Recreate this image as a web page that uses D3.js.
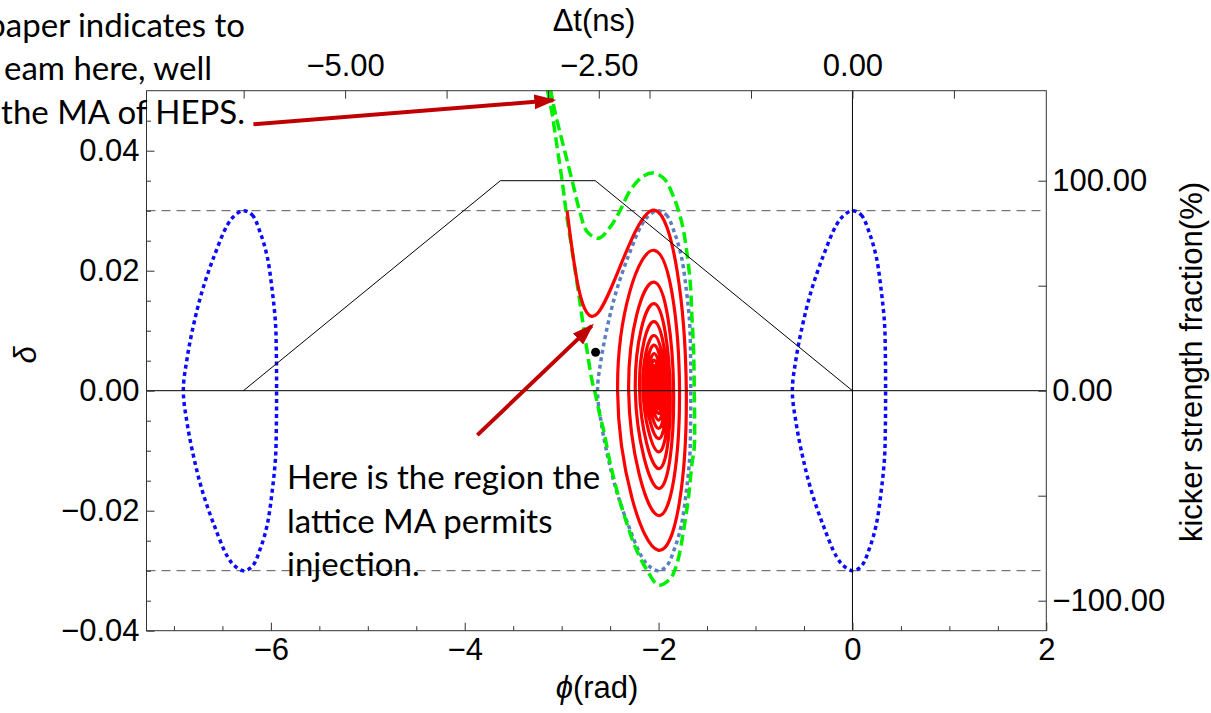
<!DOCTYPE html>
<html>
<head>
<meta charset="utf-8">
<script src="https://cdn.jsdelivr.net/npm/d3@7"></script>
<style>
  body { margin: 0; background: #fff; }
  svg { display: block; }
  .axis text { font-family: "Liberation Sans", Arial, sans-serif; font-size: 31px; fill: #000; }
  .axis line { stroke: #333; }
  .title { font-family: "Liberation Sans", Arial, sans-serif; font-size: 31px; fill: #000; }
  .note { font-family: Lato, "Open Sans", sans-serif; font-size: 33px; fill: #000; }
</style>
</head>
<body>
<div id="chart"></div>
<script>
/**** size of the svg and the plot frame ****/
var width = 1211,
    height = 713;
var margin = {top: 90.7, right: 164.7, bottom: 82.3, left: 146.5};

/**** axes ****/
var phiDomain = [-2 * Math.PI - 1, 2];   // rad
var deltaDomain = [-0.04, 0.05];
var rfRadPerNs = 1.0468;                 // 2*pi*166.6 MHz, rad per ns
var kickerFull = 0.035;                  // delta that matches 100% kicker

var bottomMajor = [-6, -4, -2, 0, 2];
var leftMajor = [-0.04, -0.02, 0, 0.02, 0.04];
var topTicks = [-6, -5, -4, -3, -2.5, -2, -1, 0, 1];
var topLabels = [-5, -2.5, 0];
var rightTicks = [-100, -50, 0, 50, 100];
var rightLabels = [-100, 0, 100];
var maLimits = [-0.03, 0.03];

/**** separatrix of one bucket, offsets from its centre ****/
var bucketDphi = [0.0, 0.09, 0.177, 0.246, 0.297, 0.331, 0.340, 0.342, 0.340, 0.331, 0.297, 0.246, 0.177, 0.09,
                  0.0, -0.09, -0.166, -0.305, -0.424, -0.511, -0.579, -0.620, -0.579, -0.511, -0.424, -0.305, -0.166, -0.09];
var bucketDelta = [0.0300, 0.0293, 0.0262, 0.0223, 0.0167, 0.0112, 0.0056, 0, -0.0056, -0.0112, -0.0167, -0.0223, -0.0262, -0.0293,
                   -0.0300, -0.0292, -0.0276, -0.0223, -0.0167, -0.0112, -0.0056, 0, 0.0056, 0.0112, 0.0167, 0.0223, 0.0276, 0.0292];
var bucketCentres = [-2 * Math.PI, 0];   // blue dotted
var latticeCentre = -2.01;               // steel blue dotted

/**** kicker waveform ****/
var kickerPhi = [-2 * Math.PI, -3.632, -2.653, 0];
var kickerPct = [0, 100, 100, 0];

/**** green dashed boundary ****/
var greenPhi = [-3.117, -3.065, -2.979, -2.893, -2.807, -2.738, -2.619, -2.498, -2.395, -2.292, -2.171, -2.068,
                -1.948, -1.845, -1.759, -1.707, -1.673, -1.656, -1.639, -1.632, -1.632, -1.656, -1.691, -1.742,
                -1.810, -1.879, -2.000, -2.120, -2.240, -2.326, -2.412, -2.498, -2.567, -2.601, -2.653, -2.687,
                -2.738, -2.790, -2.841, -2.893, -2.952, -2.996, -3.047, -3.099, -3.151];
var greenDelta = [0.0504, 0.0462, 0.0406, 0.0351, 0.0295, 0.0265, 0.0254, 0.0273, 0.0301, 0.0334, 0.0356, 0.0363,
                  0.0354, 0.0323, 0.0279, 0.0229, 0.0179, 0.0123, 0.0067, 0.0000, -0.0094, -0.0122, -0.0177, -0.0233,
                  -0.0288, -0.0313, -0.0324, -0.0299, -0.0261, -0.0222, -0.0177, -0.0122, -0.0066, -0.0044, -0.0005, 0.0017,
                  0.0067, 0.0123, 0.0179, 0.0234, 0.0296, 0.0351, 0.0406, 0.0462, 0.0504];

/**** red injected trajectory: lead-in, then one top/right/bottom/left per turn ****/
var leadPhi = [-2.944, -2.635];
var leadDelta = [0.0300, 0.0128];
var loopTopPhi = -2.045,
    loopBottomPhi = -2.0;
var loopTop = [0.0301, 0.0234, 0.0181, 0.0145, 0.0115, 0.0092, 0.0076, 0.0062, 0.0051, 0.0042, 0.0035, 0.0029, 0.0024, 0.0019, 0.0015, 0.0011];
var loopRight = [-1.714, -1.784, -1.845, -1.880, -1.903, -1.924, -1.941, -1.957, -1.972, -1.985, -1.995, -2.003, -2.009, -2.013, -2.016, -2.018];
var loopBottom = [-0.0266, -0.0208, -0.0163, -0.0130, -0.0102, -0.0080, -0.0063, -0.0049, -0.0038, -0.0030, -0.0024, -0.0019, -0.0015, -0.0011, -0.0008, -0.0005];
var loopLeft = [-2.423, -2.309, -2.240, -2.196, -2.161, -2.134, -2.109, -2.086, -2.065, -2.049, -2.040, -2.033, -2.028, -2.025, -2.023, -2.022];

var injPoint = [-2.65, 0.0064];

/**** annotation arrows (phi, delta) ****/
var arrowFrom = [[-6.18, 0.0444], [-3.87, -0.0074]];
var arrowTo = [[-3.086, 0.0484], [-2.690, 0.0108]];

/**** set up svg ****/
var svg = d3.select("#chart")
    .append("svg")
    .attr("width", width)
    .attr("height", height);

var x0 = margin.left,
    x1 = width - margin.right,
    y0 = margin.top,
    y1 = height - margin.bottom;

var x = d3.scaleLinear().domain(phiDomain).range([x0, x1]);
var y = d3.scaleLinear().domain(deltaDomain).range([y1, y0]);
var xt = d3.scaleLinear().domain(phiDomain.map(function(p) { return p / rfRadPerNs; })).range([x0, x1]);
var yk = d3.scaleLinear().domain(deltaDomain.map(function(d) { return d / kickerFull * 100; })).range([y1, y0]);

svg.append("defs").append("clipPath").attr("id", "plotClip")
  .append("rect").attr("x", x0).attr("y", y0).attr("width", x1 - x0).attr("height", y1 - y0);

svg.select("defs").append("marker")
    .attr("id", "head")
    .attr("markerUnits", "userSpaceOnUse")
    .attr("viewBox", "0 -8 22 16")
    .attr("markerWidth", 22).attr("markerHeight", 16)
    .attr("refX", 19).attr("refY", 0)
    .attr("orient", "auto")
  .append("path")
    .attr("d", "M0,-7.5L22,0L0,7.5Z")
    .attr("fill", "#c00000");

var plot = svg.append("g").attr("clip-path", "url(#plotClip)");

var line = d3.line()
    .x(function(d) { return x(d[0]); })
    .y(function(d) { return y(d[1]); });

// dashed momentum acceptance lines
plot.selectAll(".ma")
    .data(maLimits)
  .enter().append("line")
    .attr("x1", x0).attr("x2", x1)
    .attr("y1", function(d) { return y(d); })
    .attr("y2", function(d) { return y(d); })
    .attr("stroke", "#555")
    .attr("stroke-width", 1)
    .attr("stroke-dasharray", "9,6");

// bucket separatrices
var bucketLine = line.curve(d3.curveCatmullRomClosed.alpha(0.5));
function bucketPts(c) {
  return bucketDphi.map(function(p, i) { return [c + p, bucketDelta[i]]; });
}
plot.selectAll(".bucket")
    .data(bucketCentres)
  .enter().append("path")
    .attr("d", function(c) { return bucketLine(bucketPts(c)); })
    .attr("fill", "none")
    .attr("stroke", "#0a0aff")
    .attr("stroke-width", 3.5)
    .attr("stroke-dasharray", "4,3.5");

plot.append("path")
    .attr("d", bucketLine(bucketPts(latticeCentre)))
    .attr("fill", "none")
    .attr("stroke", "#5b80c2")
    .attr("stroke-width", 3.5)
    .attr("stroke-dasharray", "4,3.5");

// green dashed boundary
var greenPts = greenPhi.map(function(p, i) { return [p, greenDelta[i]]; });
plot.append("path")
    .attr("d", d3.line()
        .x(function(d) { return x(d[0]); })
        .y(function(d) { return y(d[1]); })
        .curve(d3.curveCatmullRom.alpha(0.5))(greenPts))
    .attr("fill", "none")
    .attr("stroke", "#00ee00")
    .attr("stroke-width", 3.5)
    .attr("stroke-dasharray", "11,5");

// red spiral
var redPts = leadPhi.map(function(p, i) { return [p, leadDelta[i]]; });
loopTop.forEach(function(t, k) {
  redPts.push([loopTopPhi, t]);
  redPts.push([loopRight[k], 0]);
  redPts.push([loopBottomPhi, loopBottom[k]]);
  redPts.push([loopLeft[k], 0]);
});
plot.append("path")
    .attr("d", d3.line()
        .x(function(d) { return x(d[0]); })
        .y(function(d) { return y(d[1]); })
        .curve(d3.curveNatural)(redPts))
    .attr("fill", "none")
    .attr("stroke", "#ff0000")
    .attr("stroke-width", 3.2);

// kicker waveform
plot.append("path")
    .attr("d", d3.line()
        .x(function(d) { return x(d[0]); })
        .y(function(d) { return yk(d[1]); })(kickerPhi.map(function(p, i) { return [p, kickerPct[i]]; })))
    .attr("fill", "none")
    .attr("stroke", "#000")
    .attr("stroke-width", 1);

// zero lines
plot.append("line")
    .attr("x1", x0).attr("x2", x1).attr("y1", y(0)).attr("y2", y(0))
    .attr("stroke", "#000").attr("stroke-width", 1);
plot.append("line")
    .attr("x1", x(0)).attr("x2", x(0)).attr("y1", y0).attr("y2", y1)
    .attr("stroke", "#000").attr("stroke-width", 1);

// injection point
plot.append("circle")
    .attr("cx", x(injPoint[0])).attr("cy", y(injPoint[1]))
    .attr("r", 4.5).attr("fill", "#000");

/**** axes ****/
function minorAxis(axis, g, vals, size) {
  svg.append("g").attr("class", "axis").attr("transform", g)
    .call(axis.tickValues(vals).tickSizeInner(size).tickSizeOuter(0).tickFormat(""))
    .call(function(s) { s.select(".domain").remove(); });
}

// bottom
svg.append("g").attr("class", "axis").attr("transform", "translate(0," + y1 + ")")
    .call(d3.axisBottom(x).tickValues(bottomMajor).tickSizeInner(-8).tickSizeOuter(0).tickPadding(7).tickFormat(d3.format("d")))
    .call(function(s) { s.select(".domain").remove(); });
minorAxis(d3.axisBottom(x), "translate(0," + y1 + ")", d3.range(-7, 2, 0.5).filter(function(v) { return v % 2 !== 0; }), -4.5);

// left
svg.append("g").attr("class", "axis").attr("transform", "translate(" + x0 + ",0)")
    .call(d3.axisLeft(y).tickValues(leftMajor).tickSizeInner(-8).tickSizeOuter(0).tickPadding(7).tickFormat(d3.format(".2f")))
    .call(function(s) { s.select(".domain").remove(); });
minorAxis(d3.axisLeft(y), "translate(" + x0 + ",0)", d3.range(-0.035, 0.05, 0.005).filter(function(v) { return Math.abs(Math.round(v * 1000) % 20) !== 0; }), -4.5);

// top (time)
svg.append("g").attr("class", "axis").attr("transform", "translate(0," + y0 + ")")
    .call(d3.axisTop(xt).tickValues(topTicks).tickSizeInner(-8).tickSizeOuter(0).tickPadding(15)
      .tickFormat(function(d) { return topLabels.indexOf(d) >= 0 ? d3.format(".2f")(d) : ""; }))
    .call(function(s) { s.select(".domain").remove(); });

// right (kicker)
svg.append("g").attr("class", "axis").attr("transform", "translate(" + x1 + ",0)")
    .call(d3.axisRight(yk).tickValues(rightTicks).tickSizeInner(-8).tickSizeOuter(0).tickPadding(6)
      .tickFormat(function(d) { return rightLabels.indexOf(d) >= 0 ? d3.format(".2f")(d) : ""; }))
    .call(function(s) { s.select(".domain").remove(); });

// frame
svg.append("rect")
    .attr("x", x0).attr("y", y0).attr("width", x1 - x0).attr("height", y1 - y0)
    .attr("fill", "none").attr("stroke", "#333").attr("stroke-width", 1);

/**** titles ****/
var tx = svg.append("text").attr("class", "title").attr("x", 597).attr("y", 698).attr("text-anchor", "middle");
tx.append("tspan").attr("font-style", "italic").text("ϕ");
tx.append("tspan").text("(rad)");

svg.append("text").attr("class", "title").attr("x", 594).attr("y", 31).attr("text-anchor", "middle").text("Δt(ns)");

svg.append("text").attr("class", "title")
    .attr("transform", "translate(36,355) rotate(-90)")
    .attr("text-anchor", "middle").attr("font-style", "italic").text("δ");

svg.append("text").attr("class", "title")
    .attr("transform", "translate(1202,362) rotate(-90)")
    .attr("text-anchor", "middle").text("kicker strength fraction(%)");

/**** annotations ****/
svg.selectAll(".arrow")
    .data(arrowFrom)
  .enter().append("line")
    .attr("x1", function(d) { return x(d[0]); })
    .attr("y1", function(d) { return y(d[1]); })
    .attr("x2", function(d, i) { return x(arrowTo[i][0]); })
    .attr("y2", function(d, i) { return y(arrowTo[i][1]); })
    .attr("stroke", "#c00000")
    .attr("stroke-width", 4)
    .attr("marker-end", "url(#head)");

var topNote = ["paper indicates to", "eam here, well", "the MA of HEPS."];
var topNoteEnd = [245, 212, 245];
svg.selectAll(".topnote")
    .data(topNote)
  .enter().append("text")
    .attr("class", "note")
    .attr("x", function(d, i) { return topNoteEnd[i]; })
    .attr("y", function(d, i) { return 36.5 + i * 43.5; })
    .attr("text-anchor", "end")
    .text(function(d) { return d; });

var lowNote = ["Here is the region the", "lattice MA permits", "injection."];
svg.selectAll(".lownote")
    .data(lowNote)
  .enter().append("text")
    .attr("class", "note")
    .attr("x", 287)
    .attr("y", function(d, i) { return 489 + i * 43.5; })
    .text(function(d) { return d; });
</script>
</body>
</html>
